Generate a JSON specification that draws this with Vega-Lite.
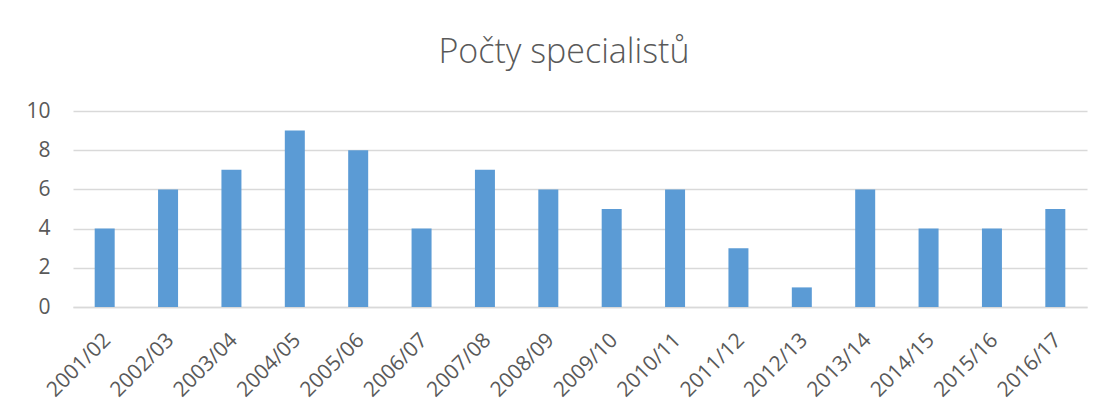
{
  "$schema": "https://vega.github.io/schema/vega-lite/v6.json",
  "autosize": "none",
  "width": 1014,
  "height": 196,
  "padding": {"left": 73, "top": 111, "right": 18, "bottom": 103},
  "background": "white",
  "title": {
    "text": "Počty specialistů",
    "font": "Open Sans",
    "fontSize": 34,
    "fontWeight": 300,
    "color": "#595959",
    "anchor": "middle",
    "dx": -16,
    "offset": 30
  },
  "data": {
    "values": [
      {"rok": "2001/02", "pocet": 4},
      {"rok": "2002/03", "pocet": 6},
      {"rok": "2003/04", "pocet": 7},
      {"rok": "2004/05", "pocet": 9},
      {"rok": "2005/06", "pocet": 8},
      {"rok": "2006/07", "pocet": 4},
      {"rok": "2007/08", "pocet": 7},
      {"rok": "2008/09", "pocet": 6},
      {"rok": "2009/10", "pocet": 5},
      {"rok": "2010/11", "pocet": 6},
      {"rok": "2011/12", "pocet": 3},
      {"rok": "2012/13", "pocet": 1},
      {"rok": "2013/14", "pocet": 6},
      {"rok": "2014/15", "pocet": 4},
      {"rok": "2015/16", "pocet": 4},
      {"rok": "2016/17", "pocet": 5}
    ]
  },
  "mark": {"type": "bar", "color": "#5B9BD5", "size": 20},
  "encoding": {
    "x": {
      "field": "rok",
      "type": "ordinal",
      "sort": null,
      "title": null,
      "axis": {
        "labelAngle": -45,
        "labelFont": "Open Sans",
        "labelFontSize": 21,
        "labelColor": "#595959",
        "labelPadding": 22,
        "labelOffset": -5,
        "ticks": false,
        "domainColor": "#D9D9D9",
        "domainWidth": 1.5
      }
    },
    "y": {
      "field": "pocet",
      "type": "quantitative",
      "title": null,
      "scale": {"domain": [0, 10]},
      "axis": {
        "values": [0, 2, 4, 6, 8, 10],
        "labelFont": "Open Sans",
        "labelFontSize": 21,
        "labelColor": "#595959",
        "labelPadding": 23,
        "ticks": false,
        "domain": false,
        "gridColor": "#D9D9D9",
        "gridWidth": 1.5
      }
    }
  },
  "config": {"view": {"stroke": null}}
}
